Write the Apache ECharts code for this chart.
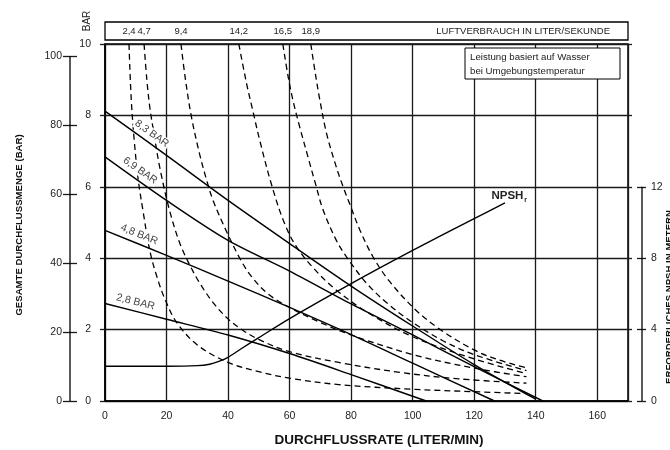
<!DOCTYPE html>
<html>
<head>
<meta charset="utf-8">
<script src="https://cdn.jsdelivr.net/npm/echarts/dist/echarts.min.js"></script>
<style>html,body{margin:0;padding:0;background:#fff}#c{width:670px;height:450px}</style>
</head>
<body>
<div id="c"></div>
<script>
// ---------- data ----------
const flowTicks = [0, 20, 40, 60, 80, 100, 120, 140, 160];
const barTicks = [0, 2, 4, 6, 8, 10];
const headTicks = [0, 20, 40, 60, 80, 100];
const npshTicks = [0, 4, 8, 12];

const pressureNames = ['8,3 BAR', '6,9 BAR', '4,8 BAR', '2,8 BAR'];
const p83 = [[0,8.12],[20,6.88],[40,5.62],[60,4.41],[80,3.22],[100,2.1],[120,1.02],[140,0.05]];
const p69 = [[0,6.84],[20,5.62],[40,4.5],[60,3.64],[80,2.72],[100,1.85],[120,0.96],[142.3,0]];
const p48 = [[0,4.78],[20,4.08],[40,3.36],[60,2.62],[80,1.86],[100,1.06],[126.6,0]];
const p28 = [[0,2.73],[20,2.29],[40,1.85],[60,1.33],[80,0.74],[104.4,0]];
const pressureLabelFlow = [13.5, 9.7, 10, 9.2];

const airNames = ['2,4', '4,7', '9,4', '14,2', '16,5', '18,9'];
const air24 = [[7.8,10],[8.5,8.5],[9.5,7.3],[10.8,6.2],[12.4,5.3],[14.6,4.2],[16.8,3.5],[19.5,2.85],[23.3,2.2],[30,1.57],[40,1.08],[50,0.82],[60,0.64],[76,0.46],[100,0.33],[120,0.26],[137,0.21]];
const air47 = [[12.7,10],[13.6,9.0],[14.6,8.2],[15.7,7.6],[17.9,6.5],[21.1,5.3],[24.4,4.4],[27.6,3.8],[30.8,3.3],[35.2,2.75],[40,2.3],[45,1.97],[50.3,1.71],[60,1.38],[76,1.08],[96,0.8],[115,0.62],[137,0.5]];
const air94 = [[24.7,10],[26,9.1],[28,8.0],[30.8,6.9],[33,6.2],[35.2,5.6],[39.5,4.75],[43.8,4.0],[47.5,3.5],[53,3.0],[60,2.62],[70,2.2],[80,1.85],[100,1.3],[120,0.92],[137,0.68]];
const air142 = [[43.5,10],[46,8.9],[48,8.15],[50.3,7.3],[54,6.1],[58,5.05],[62,4.35],[68,3.7],[75,3.12],[85,2.5],[100,1.8],[120,1.18],[137,0.77]];
const air165 = [[57.8,10],[59.5,9.1],[61.1,8.42],[63.3,7.67],[66,6.83],[68.2,6.15],[70.9,5.35],[75.2,4.5],[78.5,4.04],[85,3.3],[92,2.72],[100,2.2],[110,1.68],[120,1.3],[137,0.85]];
const air189 = [[66.9,10],[68.5,9.1],[69.8,8.45],[72,7.5],[75.2,6.55],[77.4,6.0],[79.5,5.53],[82.8,4.8],[87.1,4.04],[92.5,3.35],[101,2.55],[109,2.0],[120,1.43],[128,1.15],[136.5,0.94]];

const npsh = [[0,1.95],[20,1.95],[30,1.98],[34,2.06],[37,2.22],[40,2.45],[44,2.9],[50,3.55],[60,4.62],[80,6.58],[100,8.44],[120,10.22],[130,11.1]];
const npshLabelAt = [125.6, 11.5];

// ---------- axis ranges ----------
const flowMax = 170, barMax = 10, headMax = 103.5, npshMax = 20;

const FONT = '"Liberation Sans", Arial, sans-serif';
const INK = '#1a1a1a';
const TXT = '#222';

const pressures = [p83, p69, p48, p28];
const airs = [air24, air47, air94, air142, air165, air189];

const series = [];
pressures.forEach((d, i) => series.push({
  type: 'line', name: pressureNames[i], yAxisIndex: 0, data: d, symbol: 'none', smooth: 0.3,
  lineStyle: { color: '#000', width: 1.4 }, z: 3
}));
airs.forEach((d, i) => series.push({
  type: 'line', name: airNames[i], yAxisIndex: 0, data: d, symbol: 'none', smooth: 0.35,
  lineStyle: { color: '#000', width: 1.3, type: [6, 4] }, z: 2
}));
series.push({
  type: 'line', name: 'NPSHr', yAxisIndex: 4, data: npsh, symbol: 'none', smooth: 0.3,
  lineStyle: { color: '#000', width: 1.4 }, z: 3
});

const tickStyle = { color: INK, width: 1.3 };
const option = {
  animation: false,
  backgroundColor: '#fff',
  grid: { left: 105, right: 42, top: 44, bottom: 49, show: true, borderColor: '#000', borderWidth: 1.5 },
  xAxis: {
    type: 'value', min: 0, max: flowMax, interval: 20,
    axisLine: { show: true, onZero: false, lineStyle: { color: '#000', width: 1.5 } },
    axisTick: { show: false },
    splitLine: { show: true, lineStyle: { color: INK, width: 1.3 } },
    axisLabel: { color: TXT, fontSize: 10.5, fontFamily: FONT, margin: 10,
      formatter: v => flowTicks.includes(v) ? String(v) : '' }
  },
  yAxis: [
    { type: 'value', min: 0, max: barMax, interval: 2, position: 'left',
      axisLine: { show: true, onZero: false, lineStyle: { color: '#000', width: 1.5 } },
      axisTick: { show: true, length: 5, lineStyle: tickStyle },
      splitLine: { show: true, lineStyle: { color: INK, width: 1.3 } },
      axisLabel: { color: TXT, fontSize: 10.5, fontFamily: FONT, margin: 14,
        formatter: v => barTicks.includes(v) ? String(v) : '' } },
    { type: 'value', min: 0, max: barMax, interval: 2, position: 'right',
      axisLine: { show: false, onZero: false }, axisTick: { show: true, length: 4, lineStyle: tickStyle },
      splitLine: { show: false }, axisLabel: { show: false } },
    { type: 'value', min: 0, max: headMax, interval: 20, position: 'left', offset: 35,
      axisLine: { show: false, onZero: false },
      axisTick: { show: true, length: 7, customValues: headTicks, lineStyle: tickStyle },
      splitLine: { show: false },
      axisLabel: { show: true, customValues: headTicks, color: TXT, fontSize: 10.5, fontFamily: FONT, margin: 8,
        formatter: v => headTicks.includes(v) ? String(v) : '' } },
    { type: 'value', min: 0, max: headMax, interval: 20, position: 'left', offset: 35,
      axisLine: { show: false, onZero: false },
      axisTick: { show: true, inside: true, length: 7, customValues: headTicks, lineStyle: tickStyle },
      splitLine: { show: false }, axisLabel: { show: false } },
    { type: 'value', min: 0, max: npshMax, interval: 4, position: 'right', offset: 14,
      axisLine: { show: false, onZero: false },
      axisTick: { show: true, length: 4, customValues: npshTicks, lineStyle: tickStyle },
      splitLine: { show: false },
      axisLabel: { show: true, customValues: npshTicks, color: TXT, fontSize: 10.5, fontFamily: FONT, margin: 9,
        formatter: v => npshTicks.includes(v) ? String(v) : '' } },
    { type: 'value', min: 0, max: npshMax, interval: 4, position: 'right', offset: 14,
      axisLine: { show: false, onZero: false },
      axisTick: { show: true, inside: true, length: 5, customValues: npshTicks, lineStyle: tickStyle },
      splitLine: { show: false }, axisLabel: { show: false } }
  ],
  series: series
};

const chart = echarts.init(document.getElementById('c'), null, { renderer: 'canvas' });
chart.setOption(option);

const X = v => chart.convertToPixel({ xAxisIndex: 0 }, v);
const YB = v => chart.convertToPixel({ yAxisIndex: 0 }, v);
const YH = v => chart.convertToPixel({ yAxisIndex: 2 }, v);
const YN = v => chart.convertToPixel({ yAxisIndex: 4 }, v);

function interp(pts, x) {
  for (let i = 0; i < pts.length - 1; i++) {
    if (x >= pts[i][0] && x <= pts[i + 1][0]) {
      const t = (x - pts[i][0]) / (pts[i + 1][0] - pts[i][0]);
      return pts[i][1] + t * (pts[i + 1][1] - pts[i][1]);
    }
  }
  return pts[pts.length - 1][1];
}

const g = [];
const left = X(0), right = X(flowMax);

// outer left head axis line
g.push({ type: 'line', z: 50, shape: { x1: left - 35, y1: YH(100), x2: left - 35, y2: YH(0) },
  style: { stroke: '#000', lineWidth: 1.3 } });
// right NPSH axis line
g.push({ type: 'line', z: 50, shape: { x1: right + 14, y1: YN(12), x2: right + 14, y2: YN(0) },
  style: { stroke: '#000', lineWidth: 1.3 } });

// top air consumption box
g.push({ type: 'rect', z: 50, shape: { x: left, y: 22, width: right - left, height: 18 },
  style: { fill: 'none', stroke: '#000', lineWidth: 1.3 } });
airs.forEach((d, i) => g.push({ type: 'text', z: 60, x: X(d[0][0]), y: 31,
  style: { text: airNames[i], fill: TXT, fontSize: 9.5, fontFamily: FONT, align: 'center', verticalAlign: 'middle' } }));
g.push({ type: 'text', z: 60, x: right - 18, y: 31,
  style: { text: 'LUFTVERBRAUCH IN LITER/SEKUNDE', fill: TXT, fontSize: 9.5, fontFamily: FONT, align: 'right', verticalAlign: 'middle' } });

// note box
g.push({ type: 'rect', z: 70, shape: { x: right - 163, y: 48, width: 155, height: 31 },
  style: { fill: '#fff', stroke: '#000', lineWidth: 1 } });
g.push({ type: 'text', z: 71, x: right - 158, y: 57,
  style: { text: 'Leistung basiert auf Wasser', fill: TXT, fontSize: 9.7, fontFamily: FONT, align: 'left', verticalAlign: 'middle' } });
g.push({ type: 'text', z: 71, x: right - 158, y: 71,
  style: { text: 'bei Umgebungstemperatur', fill: TXT, fontSize: 9.7, fontFamily: FONT, align: 'left', verticalAlign: 'middle' } });

// BAR unit label
g.push({ type: 'text', z: 60, x: 87, y: 21, rotation: Math.PI / 2,
  style: { text: 'BAR', fill: TXT, fontSize: 10, fontFamily: FONT, align: 'center', verticalAlign: 'middle' } });

// axis titles
g.push({ type: 'text', z: 60, x: 379, y: 440,
  style: { text: 'DURCHFLUSSRATE (LITER/MIN)', fill: '#111', fontSize: 13.5, fontWeight: 'bold', fontFamily: FONT, align: 'center', verticalAlign: 'middle' } });
g.push({ type: 'text', z: 60, x: 19, y: 225, rotation: Math.PI / 2,
  style: { text: 'GESAMTE DURCHFLUSSMENGE (BAR)', fill: '#111', fontSize: 9.6, fontWeight: 'bold', fontFamily: FONT, align: 'center', verticalAlign: 'middle' } });
g.push({ type: 'text', z: 60, x: 669, y: 297, rotation: Math.PI / 2,
  style: { text: 'ERFORDERLICHES NPSH IN METERN', fill: '#111', fontSize: 9.6, fontWeight: 'bold', fontFamily: FONT, align: 'center', verticalAlign: 'middle' } });

// pressure curve labels
pressures.forEach((d, i) => {
  const fx = pressureLabelFlow[i];
  const px = X(fx), py = YB(interp(d, fx));
  const dx = X(fx + 2) - X(fx - 2);
  const dy = YB(interp(d, fx + 2)) - YB(interp(d, Math.max(0, fx - 2)));
  const th = Math.atan2(dy, dx);
  const off = 9;
  g.push({ type: 'text', z: 65, x: px + off * Math.sin(th), y: py - off * Math.cos(th), rotation: -th,
    style: { text: pressureNames[i], fill: '#444', fontSize: 10.5, fontFamily: FONT, align: 'center', verticalAlign: 'middle',
      backgroundColor: '#fff', padding: [0, 1] } });
});

// NPSHr label
g.push({ type: 'text', z: 65, x: X(npshLabelAt[0]), y: YN(npshLabelAt[1]),
  style: { text: '{a|NPSH}{b|r}', align: 'left', verticalAlign: 'middle',
    rich: { a: { fontSize: 11.5, fontWeight: 'bold', fontFamily: FONT, fill: '#222' },
            b: { fontSize: 7, fontWeight: 'bold', fontFamily: FONT, fill: '#222', padding: [8, 0, 0, 1] } } } });

chart.setOption({ graphic: g });
</script>
</body>
</html>
